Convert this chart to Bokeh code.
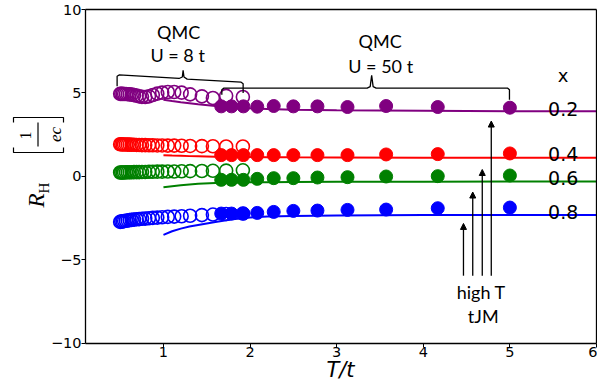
import math
from bokeh.plotting import figure
from bokeh.models import Label, Arrow, NormalHead, FixedTicker, LinearAxis
from bokeh.embed import file_html
from bokeh.resources import INLINE

# ---------------- data ----------------
dopings = ["0.2", "0.4", "0.6", "0.8"]
colors = ["purple", "red", "green", "blue"]

# QMC U = 8 t (open circles)
T_U8 = [0.5, 0.513, 0.529, 0.546, 0.567, 0.588, 0.61, 0.633, 0.66, 0.69, 0.719,
        0.752, 0.79, 0.833, 0.877, 0.929, 0.985, 1.05, 1.124, 1.21, 1.308, 1.444,
        1.571, 1.724, 1.917]
RH_U8_02 = [4.95, 4.95, 4.95, 4.94, 4.94, 4.93, 4.92, 4.9, 4.87, 4.84, 4.8, 4.77,
            4.76, 4.8, 4.88, 4.96, 5.02, 5.06, 5.06, 5.02, 4.92, 4.8, 4.7, 4.83, 4.76]
RH_U8_04 = [1.93, 1.93, 1.92, 1.92, 1.92, 1.91, 1.91, 1.9, 1.9, 1.89, 1.89, 1.88,
            1.88, 1.87, 1.87, 1.86, 1.86, 1.85, 1.85, 1.84, 1.83, 1.82, 1.81, 1.8, 1.8]
RH_U8_06 = [0.24, 0.24, 0.24, 0.24, 0.25, 0.25, 0.25, 0.25, 0.26, 0.26, 0.26, 0.27,
            0.27, 0.28, 0.28, 0.29, 0.29, 0.3, 0.3, 0.31, 0.32, 0.33, 0.34, 0.35, 0.37]
RH_U8_08 = [-2.72, -2.7, -2.69, -2.67, -2.65, -2.63, -2.61, -2.6, -2.58, -2.56, -2.55,
            -2.53, -2.52, -2.5, -2.48, -2.46, -2.44, -2.42, -2.4, -2.38, -2.35, -2.31,
            -2.28, -2.25, -2.22]

# QMC U = 50 t (filled circles)
T_U50 = [1.667, 1.786, 1.923, 2.083, 2.273, 2.5, 2.778, 3.125, 3.571, 4.167, 5.0]
RH_U50_02 = [4.2, 4.2, 4.2, 4.18, 4.22, 4.2, 4.2, 4.16, 4.22, 4.16, 4.12]
RH_U50_04 = [1.28, 1.28, 1.28, 1.28, 1.28, 1.28, 1.28, 1.28, 1.32, 1.34, 1.38]
RH_U50_06 = [-0.2, -0.2, -0.2, -0.14, -0.1, -0.1, -0.06, -0.04, 0.0, 0.02, 0.06]
RH_U50_08 = [-2.22, -2.22, -2.22, -2.18, -2.12, -2.06, -2.04, -2.0, -1.98, -1.9, -1.86]

# high-T tJM (lines)
T_tJM = [1.0, 1.1, 1.2, 1.3, 1.4, 1.6, 1.8, 2.0, 2.2, 2.5, 3.0, 4.0, 5.0, 6.0]
RH_tJM_02 = [4.6, 4.52, 4.45, 4.39, 4.33, 4.22, 4.14, 4.08, 4.04, 4.0, 3.96, 3.93, 3.91, 3.9]
RH_tJM_04 = [1.27, 1.25, 1.24, 1.22, 1.21, 1.19, 1.18, 1.17, 1.16, 1.15, 1.14, 1.13, 1.12, 1.12]
RH_tJM_06 = [-0.65, -0.58, -0.52, -0.48, -0.44, -0.39, -0.37, -0.35, -0.34, -0.33, -0.32,
             -0.31, -0.3, -0.3]
RH_tJM_08 = [-3.5, -3.28, -3.12, -3.0, -2.9, -2.72, -2.56, -2.46, -2.4, -2.36, -2.33,
             -2.31, -2.3, -2.3]

X_LIMITS = (0.1, 6)
Y_LIMITS = (-10, 10)
x_ticks = [1, 2, 3, 4, 5, 6]
y_ticks = [-10, -5, 0, 5, 10]
y_tick_labels = {-10: "\u221210", -5: "\u22125", 0: "0", 5: "5", 10: "10"}

u8_series = [RH_U8_02, RH_U8_04, RH_U8_06, RH_U8_08]
u50_series = [RH_U50_02, RH_U50_04, RH_U50_06, RH_U50_08]
tjm_series = [RH_tJM_02, RH_tJM_04, RH_tJM_06, RH_tJM_08]

# ---------------- figure ----------------
# The frame covers the whole canvas; the axes are fixed inside it so that the
# axis titles (built from several text pieces) can sit next to them.
W, H = 597, 387
p = figure(width=W, height=H, x_range=(-0.8814, 6.0115), y_range=(-12.635, 10.539),
           output_backend="svg", toolbar_location=None,
           min_border_left=0, min_border_right=0, min_border_top=0,
           min_border_bottom=0)
p.background_fill_color = "white"
p.border_fill_color = "white"
p.outline_line_color = None
p.xgrid.visible = False
p.ygrid.visible = False

p.xaxis.fixed_location = Y_LIMITS[0]
p.xaxis.bounds = X_LIMITS
p.yaxis.fixed_location = X_LIMITS[0]
p.yaxis.bounds = Y_LIMITS

for ax in (p.xaxis, p.yaxis):
    ax.axis_line_color = "black"
    ax.axis_line_width = 1.3
    ax.major_tick_line_color = "black"
    ax.major_tick_line_width = 1
    ax.major_tick_in = 0
    ax.major_tick_out = 4
    ax.minor_tick_line_color = None
    ax.major_label_text_font = "DejaVu Sans"
    ax.major_label_text_font_size = "14.5px"
    ax.major_label_text_color = "black"
    ax.major_label_standoff = 0
p.xaxis.ticker = FixedTicker(ticks=x_ticks)
p.yaxis.ticker = FixedTicker(ticks=y_ticks)
p.yaxis.major_label_overrides = y_tick_labels

# top and right spines
top_spine = LinearAxis(fixed_location=Y_LIMITS[1], bounds=X_LIMITS,
                       ticker=FixedTicker(ticks=[]), axis_line_color="black",
                       axis_line_width=1.3, major_tick_line_color=None,
                       minor_tick_line_color=None, major_label_text_alpha=0)
right_spine = LinearAxis(fixed_location=X_LIMITS[1], bounds=Y_LIMITS,
                         ticker=FixedTicker(ticks=[]), axis_line_color="black",
                         axis_line_width=1.3, major_tick_line_color=None,
                         minor_tick_line_color=None, major_label_text_alpha=0)
p.add_layout(top_spine, "above")
p.add_layout(right_spine, "right")

# ---------------- data marks ----------------
for c, u8 in zip(colors, u8_series):
    p.scatter(T_U8, u8, marker="circle", size=13, fill_alpha=0,
              line_color=c, line_width=1.6)
for c, u50, tj in zip(colors, u50_series, tjm_series):
    p.line(T_tJM, tj, line_color=c, line_width=2)
    p.scatter(T_U50, u50, marker="circle", size=13, fill_color=c, line_color=c)

# ---------------- annotations ----------------
BRACKET_U8_X = [0.465, 0.465, 0.488, 1.181, 1.218, 1.227, 1.237, 1.274, 1.897, 1.92, 1.92]
BRACKET_U8_Y = [5.41, 6.0, 6.08, 5.87, 5.96, 6.36, 5.96, 5.83, 5.65, 5.56, 5.0]
BRACKET_U50_X = [1.674, 1.674, 1.695, 3.352, 3.387, 3.404, 3.421, 3.456, 4.975, 4.995, 4.995]
BRACKET_U50_Y = [4.9, 5.2, 5.29, 5.29, 5.38, 6.06, 5.38, 5.29, 5.29, 5.2, 4.6]
p.line(BRACKET_U8_X, BRACKET_U8_Y, line_color="black", line_width=1.3)
p.line(BRACKET_U50_X, BRACKET_U50_Y, line_color="black", line_width=1.3)

ANNOT_FONT = "Lato"
for txt, x, y in [("QMC", 1.176, 8.67), ("U = 8 t", 1.164, 7.28),
                  ("QMC", 3.502, 8.11), ("U = 50 t", 3.508, 6.6),
                  ("high T", 4.669, -6.92), ("tJM", 4.692, -8.37)]:
    p.add_layout(Label(x=x, y=y, text=txt, text_align="center", text_baseline="middle",
                       text_font=ANNOT_FONT, text_font_size="18px", text_color="black"))

ARROW_X = [4.464, 4.571, 4.681, 4.785]
ARROW_TOP = [-2.81, -0.93, 0.42, 3.32]
ARROW_BOTTOM = -5.94
for ax_, top in zip(ARROW_X, ARROW_TOP):
    p.add_layout(Arrow(end=NormalHead(size=6, fill_color="black", line_color="black"),
                       x_start=ax_, y_start=ARROW_BOTTOM, x_end=ax_, y_end=top,
                       line_color="black", line_width=1.3))

# doping labels on the right
p.add_layout(Label(x=5.615, y=6.06, text="x", text_align="center", text_baseline="middle",
                   text_font="DejaVu Sans", text_font_size="18px", text_color="black"))
for txt, y in zip(dopings, [4.05, 1.32, -0.1, -2.12]):
    p.add_layout(Label(x=5.615, y=y, text=txt, text_align="center", text_baseline="middle",
                       text_font="DejaVu Sans", text_font_size="19px", text_color="black"))

# x-axis title
p.add_layout(Label(x=3.044, y=-11.617, text="T/t", text_align="center",
                   text_baseline="middle", text_font="DejaVu Sans",
                   text_font_style="italic", text_font_size="21px", text_color="black"))

# y-axis title  R_H [1/ec]  (rotated)
rot = math.pi / 2
SERIF = "Liberation Serif"
p.add_layout(Label(x=-0.4715, y=-1.437, text="R", angle=rot, text_align="center",
                   text_baseline="middle", text_font=SERIF, text_font_style="italic",
                   text_font_size="23px", text_color="black"))
p.add_layout(Label(x=-0.3734, y=-0.689, text="H", angle=rot, text_align="center",
                   text_baseline="middle", text_font=SERIF, text_font_size="15px",
                   text_color="black"))
p.add_layout(Label(x=-0.5928, y=2.455, text="1", angle=rot, text_align="center",
                   text_baseline="middle", text_font=SERIF, text_font_size="16px",
                   text_color="black"))
p.add_layout(Label(x=-0.2464, y=2.515, text="ec", angle=rot, text_align="center",
                   text_baseline="middle", text_font=SERIF, text_font_style="italic",
                   text_font_size="17px", text_color="black"))
FRAC_BAR_X = [-0.4484, -0.4484]
FRAC_BAR_Y = [1.796, 3.234]
LBRACKET_X = [-0.7313, -0.7313, -0.154, -0.154]
LBRACKET_Y = [1.737, 1.437, 1.437, 1.737]
RBRACKET_X = [-0.7313, -0.7313, -0.154, -0.154]
RBRACKET_Y = [3.234, 3.533, 3.533, 3.234]
p.line(FRAC_BAR_X, FRAC_BAR_Y, line_color="black", line_width=1.2)
p.line(LBRACKET_X, LBRACKET_Y, line_color="black", line_width=1.2)
p.line(RBRACKET_X, RBRACKET_Y, line_color="black", line_width=1.2)

open("out.html", "w").write(file_html(p, INLINE))
